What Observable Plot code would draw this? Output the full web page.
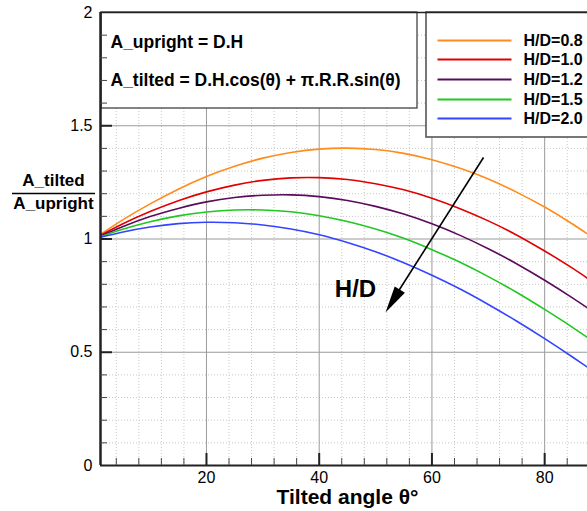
<!DOCTYPE html>
<html>
<head>
<meta charset="utf-8">
<script src="https://cdn.jsdelivr.net/npm/d3@7"></script>
<script src="https://cdn.jsdelivr.net/npm/@observablehq/plot@0.6"></script>
<style>
  html, body { margin: 0; padding: 0; background: #fff; }
</style>
</head>
<body>
<div id="chart"></div>
<script>
// ---- data ----
const angles = [0,5,10,15,20,25,30,35,40,45,50,55,60,65,70,75,80,85,90];
const hd08 = [1.000,1.082,1.155,1.220,1.276,1.321,1.357,1.382,1.397,1.401,1.395,1.378,1.350,1.312,1.265,1.207,1.141,1.065,0.982];
const hd10 = [1.000,1.065,1.121,1.169,1.208,1.238,1.259,1.270,1.271,1.263,1.244,1.217,1.180,1.134,1.080,1.018,0.947,0.870,0.785];
const hd12 = [1.000,1.053,1.099,1.135,1.164,1.183,1.193,1.195,1.187,1.170,1.144,1.110,1.067,1.016,0.957,0.891,0.818,0.739,0.655];
const hd15 = [1.000,1.042,1.076,1.102,1.119,1.128,1.128,1.120,1.103,1.077,1.044,1.003,0.953,0.897,0.834,0.765,0.689,0.609,0.524];
const hd20 = [1.000,1.030,1.053,1.068,1.074,1.072,1.062,1.044,1.019,0.985,0.944,0.895,0.840,0.779,0.711,0.638,0.560,0.478,0.393];
const seriesNames = ["H/D=0.8","H/D=1.0","H/D=1.2","H/D=1.5","H/D=2.0"];
const seriesValues = [hd08, hd10, hd12, hd15, hd20];
const seriesColors = ["#ff8c1a","#e00000","#5c0a5c","#1ec81e","#3344ff"];
const xTicks = [20,40,60,80];
const yTicks = [0,0.5,1,1.5,2];
const xMinor = [4,8,12,16,24,28,32,36,44,48,52,56,64,68,72,76,84,88];
const yMinor = [0.1,0.2,0.3,0.4,0.6,0.7,0.8,0.9,1.1,1.2,1.3,1.4,1.6,1.7,1.8,1.9];
const boxLines = ["A_upright = D.H", "A_tilted = D.H.cos(\u03b8) + \u03c0.R.R.sin(\u03b8)"];
const xTitle = "Tilted angle \u03b8\u00b0";
const yTitleTop = "A_tilted";
const yTitleBottom = "A_upright";
const arrowLabel = "H/D";

// ---- tables built from the arrays ----
const rows = [];
seriesNames.forEach((name, i) => {
  angles.forEach((a, j) => rows.push({series: name, angle: a, ratio: seriesValues[i][j]}));
});
const legendRows = [1.876, 1.793, 1.704, 1.616, 1.532];
const legend = seriesNames.map((name, i) => ({series: name, y: legendRows[i]}));

const X0 = 1.2, X1 = 87.6;
const pxX = (X1 - X0) / 487;   // data units per pixel (x)
const pxY = 2 / 453;           // data units per pixel (y)

// custom narrow triangle arrowhead (tip at origin, pointing up)
const headSymbol = {
  draw(ctx) { ctx.moveTo(0, 0); ctx.lineTo(-6, 27); ctx.lineTo(6, 27); ctx.closePath(); }
};

const chart = Plot.plot({
  width: 587,
  height: 511,
  marginLeft: 100,
  marginRight: 0,
  marginTop: 12,
  marginBottom: 46,
  style: {fontFamily: "'Liberation Sans', Arial, sans-serif", fontSize: "16px", color: "#000", background: "#fff"},
  x: {domain: [X0, X1]},
  y: {domain: [0, 2]},
  color: {domain: seriesNames, range: seriesColors},
  marks: [
    // minor dotted grid
    Plot.ruleX(xMinor, {stroke: "#c8c8c8", strokeWidth: 1, strokeDasharray: "1,2"}),
    Plot.ruleY(yMinor, {stroke: "#c8c8c8", strokeWidth: 1, strokeDasharray: "1,2"}),
    // major grid
    Plot.ruleX(xTicks, {stroke: "#9a9a9a", strokeWidth: 1}),
    Plot.ruleY([0.5, 1, 1.5], {stroke: "#9a9a9a", strokeWidth: 1}),
    // curves
    Plot.line(rows, {x: "angle", y: "ratio", z: "series", stroke: "series", strokeWidth: 1.6, curve: "natural", clip: true}),
    // formula box
    Plot.rect([0], {x1: X0 + 1 * pxX, x2: X0 + 317 * pxX, y1: 2 - 96 * pxY, y2: 2, fill: "#fff", stroke: "#333", strokeWidth: 1.2}),
    Plot.text(boxLines, {x: X0 + 10 * pxX, y: (d, i) => 2 - (i === 0 ? 30 : 68) * pxY, text: d => d, textAnchor: "start", fontWeight: "bold", fontSize: 17.5}),
    // legend box
    Plot.rect([0], {x1: X0 + 326 * pxX, x2: X0 + 500 * pxX, y1: 2 - 125 * pxY, y2: 2, fill: "#fff", stroke: "#555", strokeWidth: 1.6}),
    Plot.link(legend, {x1: X0 + 337 * pxX, x2: X0 + 411 * pxX, y1: "y", y2: "y", stroke: "series", strokeWidth: 2}),
    Plot.text(legend, {x: X0 + 423 * pxX, y: "y", text: "series", textAnchor: "start", fontWeight: "bold", fontSize: 16}),
    // arrow annotation
    Plot.link([0], {x1: X0 + 383 * pxX, y1: (465 - 157) * pxY, x2: X0 + 292 * pxX, y2: (465 - 300) * pxY, stroke: "#000", strokeWidth: 1.6}),
    Plot.dot([0], {x: X0 + 285 * pxX, y: (465 - 312) * pxY, symbol: headSymbol, rotate: 212, fill: "#000", stroke: "none", r: 6}),
    Plot.text([arrowLabel], {x: X0 + 255 * pxX, y: (465 - 289) * pxY, text: d => d, fontWeight: "bold", fontSize: 24}),
    // frame lines
    Plot.ruleY([2], {stroke: "#222", strokeWidth: 1.5}),
    Plot.ruleY([0], {stroke: "#222", strokeWidth: 2}),
    Plot.ruleX([X0], {stroke: "#222", strokeWidth: 2.5}),
    // inward ticks
    Plot.ruleX(xTicks, {y1: 0, y2: 12 * pxY, stroke: "#222", strokeWidth: 2}),
    Plot.ruleX(xMinor, {y1: 0, y2: 7 * pxY, stroke: "#444", strokeWidth: 1}),
    Plot.ruleY([0.5, 1, 1.5], {x1: X0, x2: X0 + 12 * pxX, stroke: "#222", strokeWidth: 2}),
    Plot.ruleY(yMinor, {x1: X0, x2: X0 + 7 * pxX, stroke: "#444", strokeWidth: 1}),
    // axes labels
    Plot.axisX({ticks: xTicks, tickSize: 0, tickPadding: 6, fontSize: 16, label: null}),
    Plot.axisY({ticks: yTicks, tickSize: 0, tickPadding: 8, fontSize: 16, label: null, tickFormat: d => String(d)}),
    Plot.text([xTitle], {x: X0 + 247 * pxX, y: -32 * pxY, text: d => d, fontWeight: "bold", fontSize: 21}),
    Plot.text([yTitleTop], {x: X0 - 47 * pxX, y: (465 - 180) * pxY, text: d => d, fontWeight: "bold", fontSize: 17}),
    Plot.text([yTitleBottom], {x: X0 - 47 * pxX, y: (465 - 203) * pxY, text: d => d, fontWeight: "bold", fontSize: 17}),
    Plot.ruleY([(465 - 193) * pxY], {x1: X0 - 88 * pxX, x2: X0 - 5 * pxX, stroke: "#000", strokeWidth: 1.5})
  ]
});
document.getElementById("chart").appendChild(chart);
</script>
</body>
</html>
